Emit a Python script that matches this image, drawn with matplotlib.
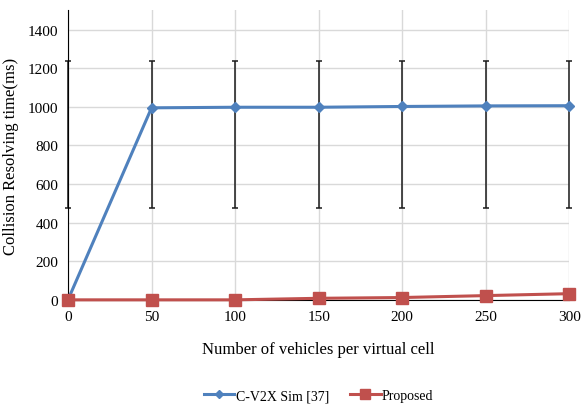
import numpy as np
import matplotlib.pyplot as plt

plt.rcParams['font.family'] = ['Liberation Serif', 'DejaVu Serif']

vehicles = [0, 50, 100, 150, 200, 250, 300]
cv2x = [0, 995, 998, 998, 1002, 1005, 1006]
proposed = [0, 0, 0, 8, 12, 22, 32]
# error bars (same range at every point)
err_low = [478] * 7
err_high = [1237] * 7

fig = plt.figure(figsize=(5.81, 4.06), dpi=100)
ax = fig.add_axes([0.117, 0.259, 0.863, 0.713])

blue = '#4f81bd'
red = '#c0504d'

mid = [(l + h) / 2 for l, h in zip(err_low, err_high)]
half = [(h - l) / 2 for l, h in zip(err_low, err_high)]
ax.errorbar(vehicles, mid, yerr=half, fmt='none', ecolor='#1a1a1a', elinewidth=1.1,
            capsize=2.5, capthick=1.1, zorder=2, clip_on=False)

ax.plot(vehicles, cv2x, color=blue, lw=2.2, marker='D', ms=5, label='C-V2X Sim [37]',
        zorder=3, clip_on=False)
ax.plot(vehicles, proposed, color=red, lw=2.2, marker='s', ms=8, label='Proposed',
        zorder=4, clip_on=False)

ax.set_xlim(0, 300)
ax.set_ylim(0, 1500)
ax.set_xticks(vehicles)
ax.set_yticks(np.arange(0, 1401, 200))
ax.grid(True, color='#d9d9d9', lw=1)
ax.set_axisbelow(True)
for s in ['top', 'right']:
    ax.spines[s].set_visible(False)
ax.spines['left'].set_color('black')
ax.spines['bottom'].set_color('black')
ax.tick_params(length=0, labelsize=11, pad=7)

ax.set_xlabel('Number of vehicles per virtual cell', fontsize=12, labelpad=13)
ax.set_ylabel('Collision Resolving time(ms)', fontsize=12, labelpad=6)

ax.legend(loc='upper center', bbox_to_anchor=(0.5, -0.265), ncol=2, frameon=False,
          fontsize=10, handlelength=2.2, columnspacing=1.5, handletextpad=0.1,
          markerscale=0.85)

fig.savefig('out.png', dpi=100)
